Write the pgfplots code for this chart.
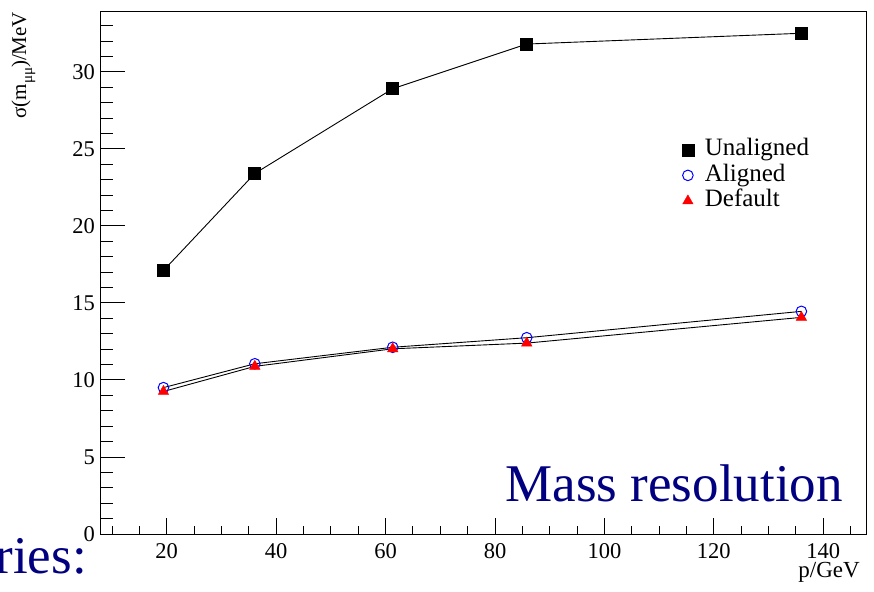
\documentclass[border=0pt]{standalone}
\usepackage{fontspec}
\setmainfont{Liberation Serif}
\usepackage{pgfplots}
\pgfplotsset{compat=1.18}
\definecolor{navytxt}{RGB}{0,0,128}
\definecolor{rootblue}{RGB}{0,0,255}
\definecolor{rootred}{RGB}{255,0,0}

\pgfplotstableread{
x y
19.4 17.1
36.1 23.4
61.3 28.9
85.8 31.8
136.0 32.5
}\unaligned
\pgfplotstableread{
x y
19.4 9.50
36.1 11.05
61.3 12.12
85.8 12.74
136.0 14.45
}\aligned
\pgfplotstableread{
x y
19.4 9.25
36.1 10.88
61.3 12.02
85.8 12.39
136.0 14.06
}\default

\begin{document}
\begin{tikzpicture}
\path[use as bounding box] (0,0) rectangle (874bp,592bp);
\begin{axis}[
  at={(100bp,58bp)}, anchor=south west,
  scale only axis, width=766.5bp, height=522.3bp,
  xmin=7.8, xmax=147.9, ymin=0, ymax=33.9,
  xtick={20,40,...,140}, ytick={0,5,...,30},
  minor xtick={10,15,...,145}, minor ytick={0,1,...,33},
  tick pos=left, tick align=inside,
  axis line style={line width=0.9bp, black},
  xtick style={/pgfplots/major tick length=16bp, /pgfplots/minor tick length=8bp, line width=0.9bp, black},
  ytick style={/pgfplots/major tick length=25bp, /pgfplots/minor tick length=13bp, line width=0.9bp, black},
  /pgf/number format/assume math mode=true,
  ticklabel style={font=\fontsize{22.5bp}{26bp}\selectfont, inner sep=0pt},
  yticklabel style={xshift=-5bp},
  xticklabel style={yshift=-9bp},
  xlabel={p/GeV},
  xlabel style={font=\fontsize{23bp}{27bp}\selectfont, inner sep=0pt, at={(axis description cs:0.9915,-0.0536)}, anchor=north east},
  ylabel={σ(m\raisebox{-6bp}{\fontsize{15bp}{15bp}\selectfont μμ})/MeV},
  ylabel style={font=\fontsize{21bp}{25bp}\selectfont, inner sep=0pt, at={(axis description cs:-0.1,1)}, anchor=east},
  legend style={draw=none, fill=none, font=\fontsize{25bp}{27bp}\selectfont,
    at={(axis description cs:0.755,0.764)}, anchor=north west, row sep=0pt,
    nodes={inner sep=1bp, text height=17.5bp, text depth=6bp}},
  legend cell align=left,
]
\addlegendimage{only marks, mark=square*, black, mark size=6bp}
\addlegendentry{\hspace{10bp}Unaligned}
\addlegendimage{only marks, mark=o, rootblue, mark size=5.3bp, mark options={line width=1bp}}
\addlegendentry{\hspace{10bp}Aligned}
\addlegendimage{only marks, mark=triangle*, rootred, mark size=6bp}
\addlegendentry{\hspace{10bp}Default}

\addplot[forget plot, black, line width=0.9bp, mark=square*, mark size=6bp, mark options={fill=black, draw=black}] table {\unaligned};
\addplot[forget plot, black, line width=0.9bp, mark=o, mark size=5.3bp, mark options={draw=rootblue, line width=1bp}] table {\aligned};
\addplot[forget plot, black, line width=0.9bp, mark=triangle*, mark size=6bp, mark options={fill=rootred, draw=rootred, line width=0.5bp}] table {\default};
\end{axis}
\node[anchor=base east, inner sep=0pt, text=navytxt, font=\fontsize{53bp}{60bp}\selectfont] at (843bp,90bp) {Mass resolution};
\node[anchor=base east, inner sep=0pt, text=navytxt, font=\fontsize{53bp}{60bp}\selectfont] at (87bp,19bp) {ries:};
\end{tikzpicture}
\end{document}
